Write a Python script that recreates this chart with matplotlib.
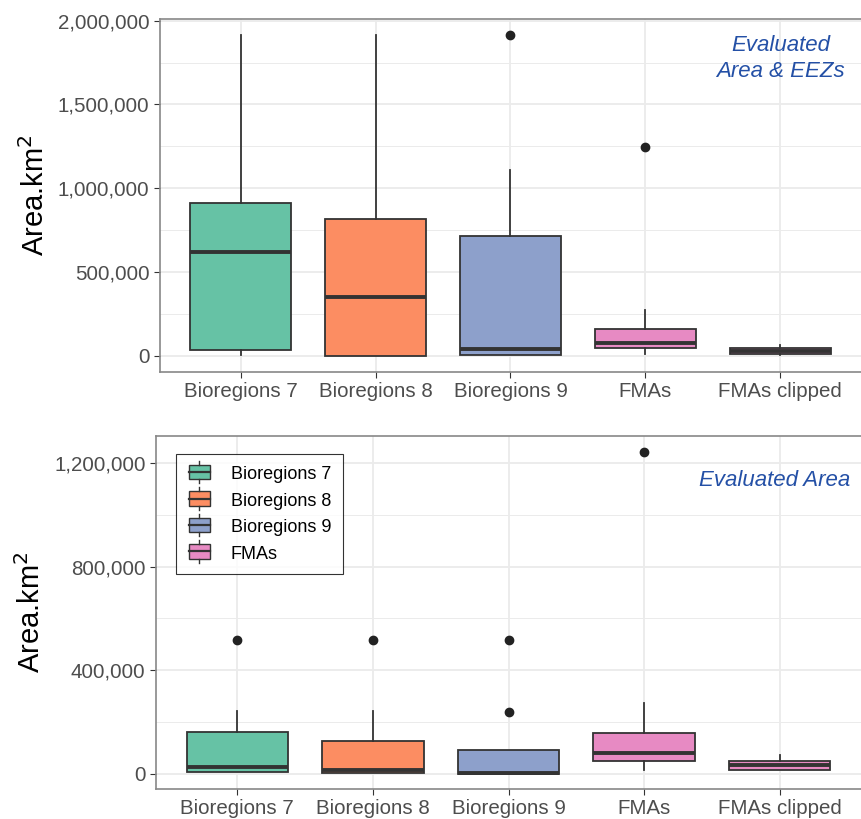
import matplotlib.pyplot as plt
from matplotlib.legend_handler import HandlerBase
from matplotlib.patches import Patch, Rectangle
from matplotlib.lines import Line2D
from matplotlib.ticker import FuncFormatter, MultipleLocator

plt.rcParams['font.family'] = ['Liberation Sans', 'DejaVu Sans']

categories = ["Bioregions 7", "Bioregions 8", "Bioregions 9", "FMAs", "FMAs clipped"]
colors = ["#66C2A5", "#FC8D62", "#8DA0CB", "#E78AC3", "#E78AC3"]

# five-number summaries (whislo, q1, med, q3, whishi) and outliers
top_whislo = [6000, 0, 5000, 12000, 6000]
top_q1 = [36000, 0, 5000, 48000, 10000]
top_med = [620000, 350000, 42000, 77000, 30000]
top_q3 = [910000, 815000, 714000, 160000, 48000]
top_whishi = [1915000, 1915000, 1107000, 274000, 68000]
top_fliers = [[], [], [1915000], [1244000], []]

bot_whislo = [4000, 3000, 0, 12000, 12000]
bot_q1 = [4000, 3000, 0, 50000, 12000]
bot_med = [27000, 15000, 3000, 81000, 31000]
bot_q3 = [162000, 125000, 89000, 158000, 50000]
bot_whishi = [240000, 240000, 89000, 274000, 73000]
bot_fliers = [[517000], [517000], [517000, 238000], [1243000], []]

legend_labels = ["Bioregions 7", "Bioregions 8", "Bioregions 9", "FMAs"]

edge = "#333333"
grid_col = "#EBEBEB"
tick_col = "#4D4D4D"
note_col = "#2450A6"


def stats(whislo, q1, med, q3, whishi, fliers):
    out = []
    for i in range(len(categories)):
        out.append(dict(whislo=whislo[i], q1=q1[i], med=med[i], q3=q3[i],
                        whishi=whishi[i], fliers=fliers[i], label=categories[i]))
    return out


def draw(ax, st, ylim, major, minor):
    bp = ax.bxp(st, positions=range(1, 6), widths=0.75, patch_artist=True,
                showcaps=False,
                boxprops=dict(edgecolor=edge, linewidth=1.3),
                medianprops=dict(color=edge, linewidth=2.8, solid_capstyle="butt"),
                whiskerprops=dict(color=edge, linewidth=1.3),
                flierprops=dict(marker="o", markerfacecolor="#222222",
                                markeredgecolor="#222222", markersize=6))
    for patch, c in zip(bp["boxes"], colors):
        patch.set_facecolor(c)
    ax.set_xlim(0.4, 5.6)
    ax.set_ylim(*ylim)
    ax.yaxis.set_major_locator(MultipleLocator(major))
    ax.yaxis.set_minor_locator(MultipleLocator(minor))
    ax.yaxis.set_major_formatter(FuncFormatter(lambda v, p: f"{int(round(v)):,}"))
    ax.set_xticks(range(1, 6))
    ax.set_xticklabels(categories)
    ax.grid(True, which="major", color=grid_col, linewidth=1.3, zorder=0)
    ax.grid(True, which="minor", axis="y", color=grid_col, linewidth=0.7, zorder=0)
    ax.set_axisbelow(True)
    ax.tick_params(which="major", length=4, color="#333333", labelsize=14.8,
                   labelcolor=tick_col, width=0.8)
    ax.tick_params(which="minor", length=0)
    for s in ax.spines.values():
        s.set_color("#888888")
        s.set_linewidth(1.2)
    ax.spines["right"].set_visible(False)
    ax.set_ylabel("Area.km$^2$", fontsize=21, labelpad=6)


class BoxHandler(HandlerBase):
    def create_artists(self, legend, orig, xdescent, ydescent, width, height, fontsize, trans):
        cx = width / 2
        bw = width * 0.9
        rect = Rectangle((cx - bw / 2, 0), bw, height, facecolor=orig.get_facecolor(),
                         edgecolor=edge, linewidth=1.0, transform=trans)
        mid = Line2D([cx - bw / 2, cx + bw / 2], [height / 2, height / 2], color=edge,
                     linewidth=1.6, transform=trans)
        up = Line2D([cx, cx], [height, height + 3], color=edge, linewidth=1.0, transform=trans)
        dn = Line2D([cx, cx], [0, -3], color=edge, linewidth=1.0, transform=trans)
        return [rect, mid, up, dn]


fig = plt.figure(figsize=(8.61, 8.19), dpi=100)
ax1 = fig.add_axes([0.1858, 0.5458, 0.8142, 0.431])
ax2 = fig.add_axes([0.1812, 0.0366, 0.8188, 0.431])

draw(ax1, stats(top_whislo, top_q1, top_med, top_q3, top_whishi, top_fliers),
     (-96000, 2010000), 500000, 250000)
draw(ax2, stats(bot_whislo, bot_q1, bot_med, bot_q3, bot_whishi, bot_fliers),
     (-60000, 1305000), 400000, 200000)

ax1.text(0.885, 0.955, "Evaluated\nArea & EEZs", transform=ax1.transAxes, ha="center",
         va="top", fontsize=16, style="italic", color=note_col, linespacing=1.3)
ax2.text(0.985, 0.905, "Evaluated Area", transform=ax2.transAxes, ha="right",
         va="top", fontsize=16, style="italic", color=note_col)

handles = [Patch(facecolor=c, edgecolor=edge) for c in colors[:4]]
leg = ax2.legend(handles, legend_labels, loc="upper left", bbox_to_anchor=(0.028, 0.949),
                 borderaxespad=0, fontsize=13, frameon=True, fancybox=False,
                 edgecolor="black", handler_map={Patch: BoxHandler()}, handlelength=1.3,
                 handleheight=0.85, borderpad=0.65, labelspacing=0.5, handletextpad=1.1)
leg.get_frame().set_linewidth(0.8)

plt.savefig("out.png", dpi=100)
